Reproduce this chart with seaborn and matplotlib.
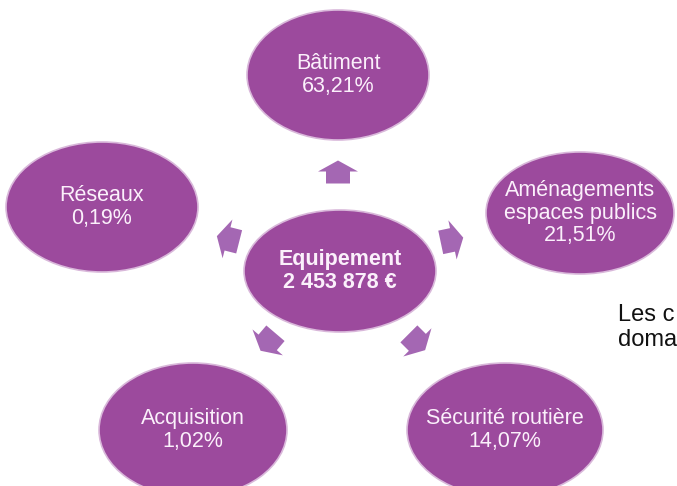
import numpy as np
import matplotlib
matplotlib.use("Agg")
import matplotlib.pyplot as plt
from matplotlib.patches import Ellipse, Polygon
import seaborn as sns

# Données
centre_label = "Equipement"
centre_montant = "2 453 878 €"
domaines = ["Bâtiment", "Aménagements\nespaces publics", "Sécurité routière", "Acquisition", "Réseaux"]
parts = [63.21, 21.51, 14.07, 1.02, 0.19]
note_lignes = ["Les c", "doma"]

# Mise en page (pixels, y vers le bas)
centre_xy = (340, 271)
noeuds_xy = [(338, 75), (580, 213), (505, 430), (193, 430), (102, 207)]
fleches_xy = [(338, 172), (452, 240), (417, 342), (268, 342), (228, 239)]

violet = "#9C4A9D"
violet_fleche = "#A467B3"
bord = "#D9B8DA"
texte_clair = "#FBF0FB"

sns.set_theme(style="white")
plt.rcParams['font.family'] = ['Liberation Sans', 'DejaVu Sans']

fig = plt.figure(figsize=(6.77, 4.86), dpi=100)
ax = fig.add_axes([0, 0, 1, 1])
ax.set_xlim(0, 677)
ax.set_ylim(486, 0)
ax.axis('off')


def fleche(cx, cy, angle, longueur=23, larg_tete=40, larg_corps=24, long_tete=11):
    # fleche "bloc" centree sur (cx, cy), orientee selon angle (degres, sens math)
    L = longueur / 2
    pts = np.array([
        [-L, -larg_corps / 2], [L - long_tete, -larg_corps / 2], [L - long_tete, -larg_tete / 2],
        [L, 0], [L - long_tete, larg_tete / 2], [L - long_tete, larg_corps / 2], [-L, larg_corps / 2]])
    a = np.deg2rad(angle)
    rot = np.array([[np.cos(a), -np.sin(a)], [np.sin(a), np.cos(a)]])
    pts = pts @ rot.T
    pts[:, 1] = -pts[:, 1]  # axe y inverse
    return pts + [cx, cy]


# Ellipse centrale
ax.add_patch(Ellipse(centre_xy, 192, 122, facecolor=violet, edgecolor=bord, lw=1.2))
ax.text(centre_xy[0], centre_xy[1], centre_label + "\n" + centre_montant, ha='center', va='center',
        fontsize=15.5, fontweight='bold', color=texte_clair, linespacing=1.1)

# Noeuds et fleches
tailles = [(182, 130), (188, 122), (196, 134), (188, 134), (192, 130)]
for nom, part, (nx, ny), (w, h), (fx, fy) in zip(domaines, parts, noeuds_xy, tailles, fleches_xy):
    ax.add_patch(Ellipse((nx, ny), w, h, facecolor=violet, edgecolor=bord, lw=1.2))
    txt = nom + "\n" + f"{part:.2f}".replace(".", ",") + "%"
    ax.text(nx, ny, txt, ha='center', va='center', fontsize=15.5, color=texte_clair, linespacing=1.1)
    angle = np.degrees(np.arctan2(-(ny - fy), nx - fx))
    ax.add_patch(Polygon(fleche(fx, fy, angle), closed=True, facecolor=violet_fleche, edgecolor='none'))

# Texte coupe a droite
ax.text(618, 304, "\n".join(note_lignes), ha='left', va='top', fontsize=17, color="#111111",
        linespacing=1.15)

fig.savefig("out.png", dpi=100)
